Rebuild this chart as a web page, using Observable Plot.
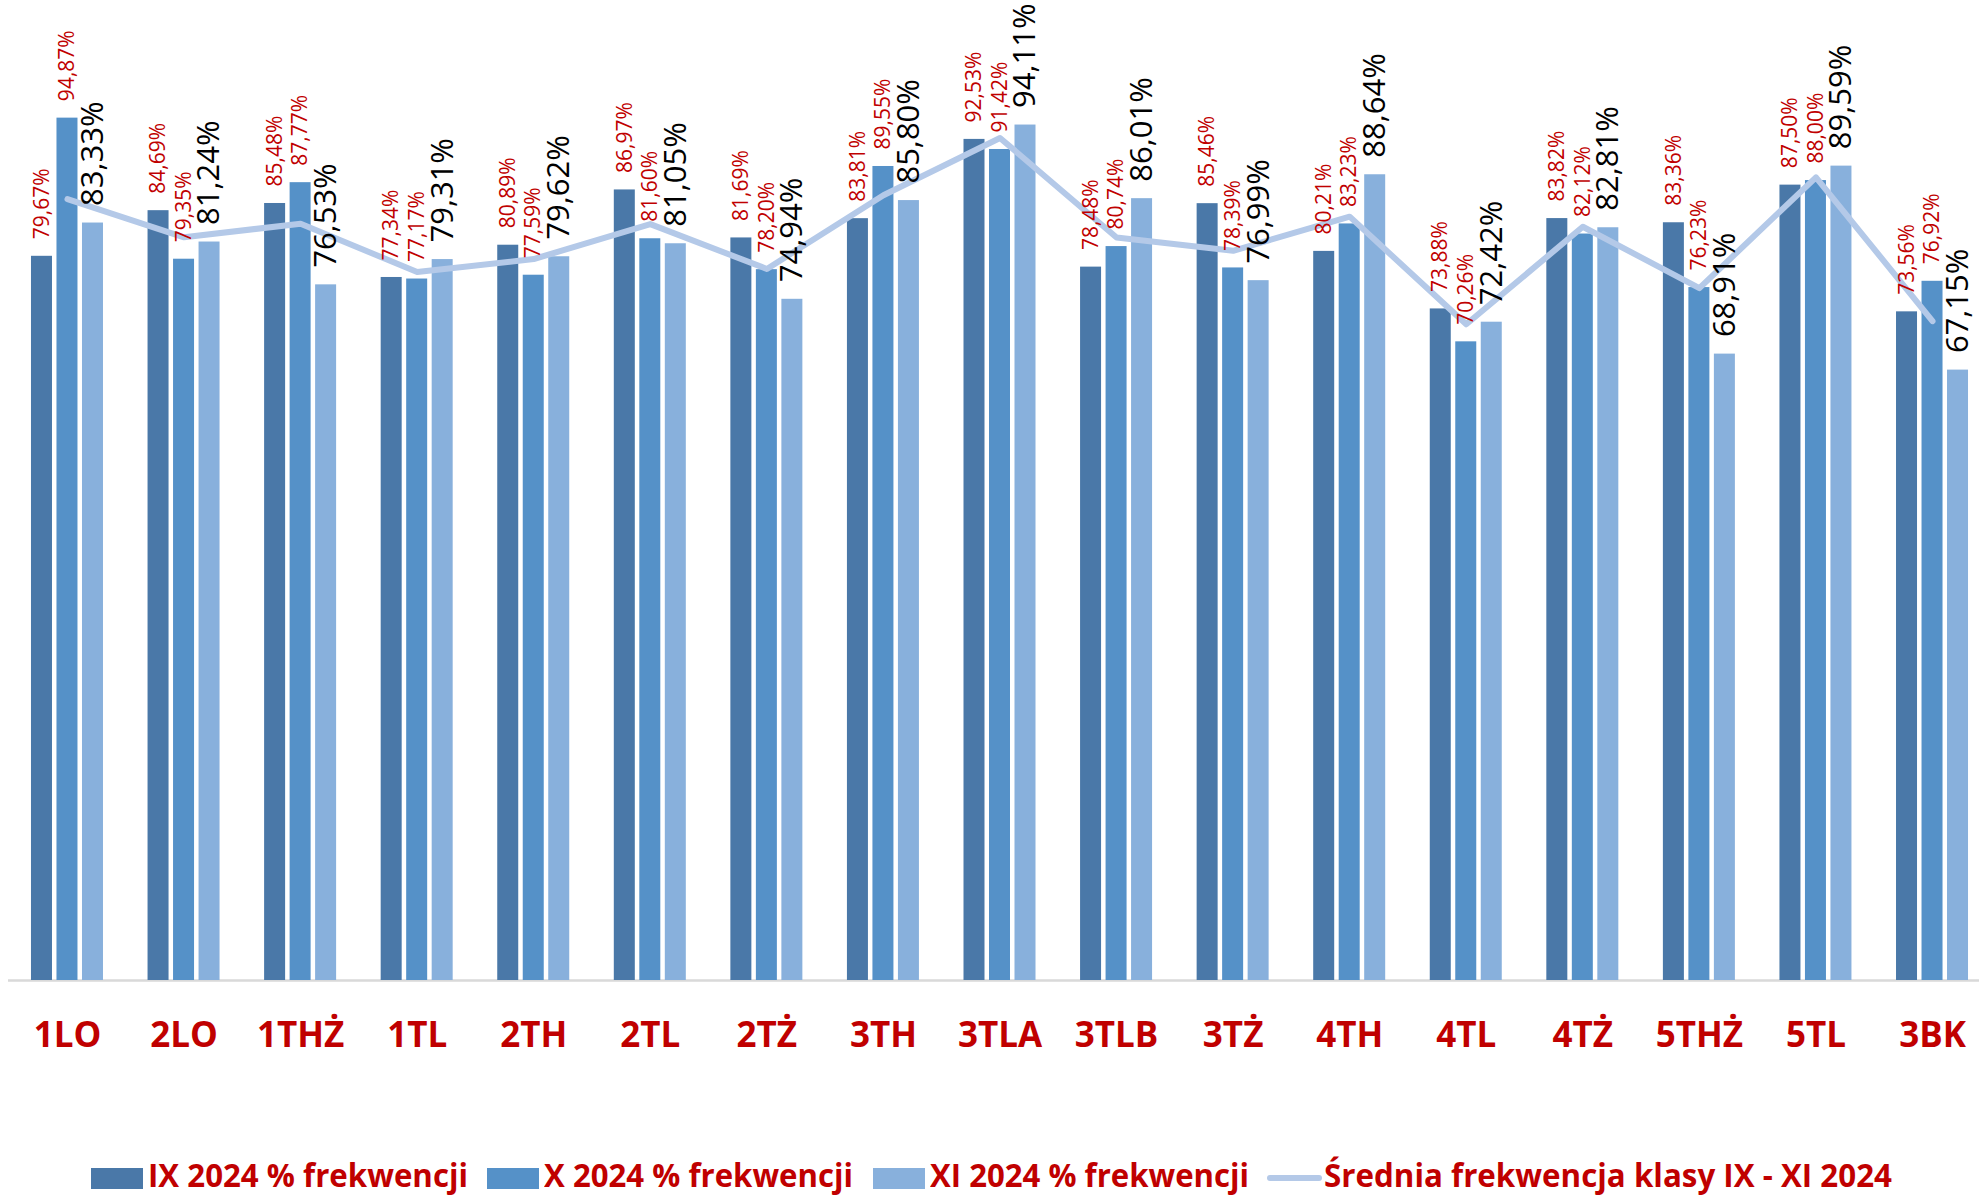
<!DOCTYPE html>
<html><head><meta charset="utf-8">
<script src="https://cdn.jsdelivr.net/npm/d3@7"></script>
<script src="https://cdn.jsdelivr.net/npm/@observablehq/plot@0.6"></script>
<style>
body{margin:0;background:#fff;}
#wrap{position:relative;width:1979px;height:1195px;overflow:hidden;}
#chart svg{display:block;}
#legend{position:absolute;left:0;top:0;width:1979px;height:1195px;font-family:"Open Sans",sans-serif;font-weight:bold;font-size:32px;line-height:1;color:#c00000;pointer-events:none;}
.sw,.ln,.lt{position:absolute;display:block;white-space:nowrap;}
.sw{width:52px;height:21px;top:1168px;}
.ln{width:55px;height:6px;border-radius:3px;top:1175px;}
.lt{top:1159px;transform-origin:0 50%;}
</style></head><body>
<div id="wrap"><div id="chart"></div><div id="legend"></div></div>
<script>
const classes = ["1LO","2LO","1THŻ","1TL","2TH","2TL","2TŻ","3TH","3TLA","3TLB","3TŻ","4TH","4TL","4TŻ","5THŻ","5TL","3BK"];
const ix2024 = [79.67,84.69,85.48,77.34,80.89,86.97,81.69,83.81,92.53,78.48,85.46,80.21,73.88,83.82,83.36,87.50,73.56];
const x2024  = [94.87,79.35,87.77,77.17,77.59,81.60,78.20,89.55,91.42,80.74,78.39,83.23,70.26,82.12,76.23,88.00,76.92];
const xi2024 = [83.33,81.24,76.53,79.31,79.62,81.05,74.94,85.80,94.11,86.01,76.99,88.64,72.42,82.81,68.91,89.59,67.15];
const avg2024 = [85.96,81.76,83.26,77.94,79.37,83.21,78.28,86.39,92.69,81.74,80.28,84.03,72.19,82.92,76.17,88.36,72.54];
const seriesNames = ["IX 2024 % frekwencji","X 2024 % frekwencji","XI 2024 % frekwencji"];
const lineName = "Średnia frekwencja klasy IX - XI 2024";

const colors = ["#4a78a8","#5591c8","#88b0dc"];
const lineColor = "#b4c9e8";
const red = "#c00000";

const W = 1979, H = 1140;
const xr = [8.7, 1990.3];
const bw = (xr[1]-xr[0]) / classes.length;
const barW = 21, offs = [-25.5, 0, 25.5];
const series = [ix2024, x2024, xi2024];
const fmt = v => v.toFixed(2).replace(".", ",") + "%";

const marks = [Plot.ruleY([0], {stroke:"#d9d9d9", strokeWidth:2.5})];
series.forEach((vals, s) => {
  const data = classes.map((c,i) => ({c, v: vals[i]}));
  marks.push(Plot.barY(data, {x:"c", y:"v", fill: colors[s],
    insetLeft: bw/2 + offs[s] - barW/2, insetRight: bw/2 - offs[s] - barW/2}));
});
marks.push(Plot.line(classes.map((c,i)=>({c, v: avg2024[i]})), {x:"c", y:"v", stroke: lineColor, strokeWidth: 6, strokeLinecap:"round", strokeLinejoin:"round"}));
series.forEach((vals, s) => {
  const data = classes.map((c,i) => ({c, v: vals[i]}));
  marks.push(Plot.text(data, {x:"c", y:"v", text: d => fmt(d.v), rotate: -90, textAnchor: "start",
    dx: offs[s], dy: -17, fill: s < 2 ? red : "#000", fontSize: s < 2 ? 21 : 31, fontFamily: "Open Sans"}));
});
marks.push(Plot.text(classes, {x: d => d, frameAnchor: "bottom", lineAnchor: "middle", dy: 55.5, text: d => d, fill: red,
  fontSize: 35, fontWeight: "bold", fontFamily: "Open Sans"}));

const chart = Plot.plot({
  width: W, height: H,
  marginTop: 71, marginBottom: H - 980, marginLeft: 8, marginRight: 0,
  x: {type: "band", domain: classes, range: xr, padding: 0, round: false, axis: null},
  y: {domain: [0, 100], axis: null},
  style: {background: "#fff"},
  marks
});
document.getElementById("chart").appendChild(chart);

const legend = document.getElementById("legend");
const swLeft = [91, 487, 873];
const txtPos = [[148, 468], [544, 853], [930, 1249]];
function addText(t, x0, x1) {
  const el = document.createElement("span"); el.className = "lt"; el.textContent = t;
  el.style.left = x0 + "px"; legend.appendChild(el);
  const w = el.getBoundingClientRect().width;
  el.style.transform = `scaleX(${(x1 - x0) / w})`;
}
seriesNames.forEach((n, s) => {
  const sw = document.createElement("span"); sw.className = "sw";
  sw.style.left = swLeft[s] + "px"; sw.style.background = colors[s]; legend.appendChild(sw);
  addText(n, txtPos[s][0], txtPos[s][1]);
});
const ln = document.createElement("span"); ln.className = "ln"; ln.style.left = "1267px"; ln.style.background = lineColor; legend.appendChild(ln);
addText(lineName, 1324, 1892);
</script>
</body></html>
